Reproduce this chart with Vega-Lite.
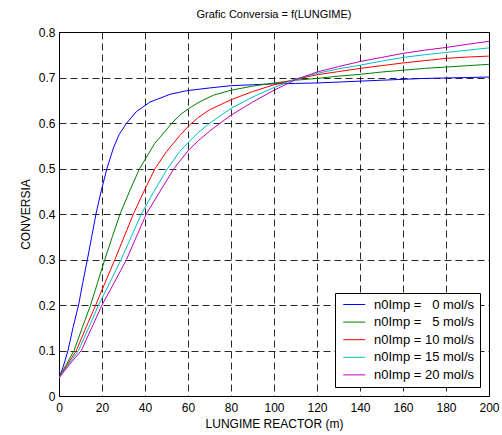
{
  "$schema": "https://vega.github.io/schema/vega-lite/v6.json",
  "width": 430,
  "height": 364,
  "autosize": {"type": "none"},
  "padding": {"left": 59, "top": 32, "right": 13, "bottom": 39},
  "background": "white",
  "title": {"text": "Grafic Conversia = f(LUNGIME)", "fontSize": 11, "fontWeight": "normal", "font": "Liberation Sans", "color": "#000", "offset": 6, "anchor": "middle"},
  "config": {
    "font": "Liberation Sans",
    "view": {"stroke": "#000", "strokeWidth": 1},
    "axis": {
      "domain": false,
      "ticks": false,
      "grid": true,
      "gridColor": "#000",
      "gridOpacity": 0.85,
      "gridDash": [7, 4],
      "gridWidth": 1,
      "labelFont": "Liberation Sans",
      "labelFontSize": 12,
      "labelColor": "#000",
      "titleFont": "Liberation Sans",
      "titleFontSize": 12,
      "titleFontWeight": "normal",
      "titleColor": "#000"
    }
  },
  "data": {
    "values": [
      {"x": 0, "y": 0.04, "s": "n0Imp = \u00a0\u00a00 mol/s"},
      {"x": 2, "y": 0.065, "s": "n0Imp = \u00a0\u00a00 mol/s"},
      {"x": 4.2, "y": 0.10, "s": "n0Imp = \u00a0\u00a00 mol/s"},
      {"x": 6.5, "y": 0.15, "s": "n0Imp = \u00a0\u00a00 mol/s"},
      {"x": 9.1, "y": 0.20, "s": "n0Imp = \u00a0\u00a00 mol/s"},
      {"x": 11.1, "y": 0.25, "s": "n0Imp = \u00a0\u00a00 mol/s"},
      {"x": 13.2, "y": 0.30, "s": "n0Imp = \u00a0\u00a00 mol/s"},
      {"x": 15.2, "y": 0.35, "s": "n0Imp = \u00a0\u00a00 mol/s"},
      {"x": 17.2, "y": 0.40, "s": "n0Imp = \u00a0\u00a00 mol/s"},
      {"x": 19.6, "y": 0.45, "s": "n0Imp = \u00a0\u00a00 mol/s"},
      {"x": 22.3, "y": 0.50, "s": "n0Imp = \u00a0\u00a00 mol/s"},
      {"x": 25.3, "y": 0.545, "s": "n0Imp = \u00a0\u00a00 mol/s"},
      {"x": 28, "y": 0.575, "s": "n0Imp = \u00a0\u00a00 mol/s"},
      {"x": 31.5, "y": 0.60, "s": "n0Imp = \u00a0\u00a00 mol/s"},
      {"x": 36, "y": 0.625, "s": "n0Imp = \u00a0\u00a00 mol/s"},
      {"x": 42.3, "y": 0.646, "s": "n0Imp = \u00a0\u00a00 mol/s"},
      {"x": 51.6, "y": 0.663, "s": "n0Imp = \u00a0\u00a00 mol/s"},
      {"x": 59.4, "y": 0.671, "s": "n0Imp = \u00a0\u00a00 mol/s"},
      {"x": 70, "y": 0.677, "s": "n0Imp = \u00a0\u00a00 mol/s"},
      {"x": 80, "y": 0.682, "s": "n0Imp = \u00a0\u00a00 mol/s"},
      {"x": 90, "y": 0.684, "s": "n0Imp = \u00a0\u00a00 mol/s"},
      {"x": 100, "y": 0.686, "s": "n0Imp = \u00a0\u00a00 mol/s"},
      {"x": 110, "y": 0.687, "s": "n0Imp = \u00a0\u00a00 mol/s"},
      {"x": 120, "y": 0.688, "s": "n0Imp = \u00a0\u00a00 mol/s"},
      {"x": 130, "y": 0.690, "s": "n0Imp = \u00a0\u00a00 mol/s"},
      {"x": 140, "y": 0.692, "s": "n0Imp = \u00a0\u00a00 mol/s"},
      {"x": 150, "y": 0.694, "s": "n0Imp = \u00a0\u00a00 mol/s"},
      {"x": 160, "y": 0.696, "s": "n0Imp = \u00a0\u00a00 mol/s"},
      {"x": 170, "y": 0.698, "s": "n0Imp = \u00a0\u00a00 mol/s"},
      {"x": 180, "y": 0.699, "s": "n0Imp = \u00a0\u00a00 mol/s"},
      {"x": 190, "y": 0.700, "s": "n0Imp = \u00a0\u00a00 mol/s"},
      {"x": 200, "y": 0.701, "s": "n0Imp = \u00a0\u00a00 mol/s"},

      {"x": 0, "y": 0.04, "s": "n0Imp = \u00a0\u00a05 mol/s"},
      {"x": 3.5, "y": 0.07, "s": "n0Imp = \u00a0\u00a05 mol/s"},
      {"x": 7.0, "y": 0.10, "s": "n0Imp = \u00a0\u00a05 mol/s"},
      {"x": 10.8, "y": 0.15, "s": "n0Imp = \u00a0\u00a05 mol/s"},
      {"x": 14.7, "y": 0.20, "s": "n0Imp = \u00a0\u00a05 mol/s"},
      {"x": 18, "y": 0.25, "s": "n0Imp = \u00a0\u00a05 mol/s"},
      {"x": 21.3, "y": 0.30, "s": "n0Imp = \u00a0\u00a05 mol/s"},
      {"x": 24.8, "y": 0.35, "s": "n0Imp = \u00a0\u00a05 mol/s"},
      {"x": 28.4, "y": 0.40, "s": "n0Imp = \u00a0\u00a05 mol/s"},
      {"x": 32.8, "y": 0.45, "s": "n0Imp = \u00a0\u00a05 mol/s"},
      {"x": 37.5, "y": 0.50, "s": "n0Imp = \u00a0\u00a05 mol/s"},
      {"x": 44.5, "y": 0.555, "s": "n0Imp = \u00a0\u00a05 mol/s"},
      {"x": 52.6, "y": 0.60, "s": "n0Imp = \u00a0\u00a05 mol/s"},
      {"x": 56.3, "y": 0.618, "s": "n0Imp = \u00a0\u00a05 mol/s"},
      {"x": 61, "y": 0.634, "s": "n0Imp = \u00a0\u00a05 mol/s"},
      {"x": 66, "y": 0.648, "s": "n0Imp = \u00a0\u00a05 mol/s"},
      {"x": 71.8, "y": 0.661, "s": "n0Imp = \u00a0\u00a05 mol/s"},
      {"x": 80, "y": 0.672, "s": "n0Imp = \u00a0\u00a05 mol/s"},
      {"x": 90, "y": 0.681, "s": "n0Imp = \u00a0\u00a05 mol/s"},
      {"x": 100, "y": 0.688, "s": "n0Imp = \u00a0\u00a05 mol/s"},
      {"x": 110, "y": 0.694, "s": "n0Imp = \u00a0\u00a05 mol/s"},
      {"x": 120, "y": 0.698, "s": "n0Imp = \u00a0\u00a05 mol/s"},
      {"x": 130, "y": 0.703, "s": "n0Imp = \u00a0\u00a05 mol/s"},
      {"x": 140, "y": 0.707, "s": "n0Imp = \u00a0\u00a05 mol/s"},
      {"x": 150, "y": 0.712, "s": "n0Imp = \u00a0\u00a05 mol/s"},
      {"x": 160, "y": 0.716, "s": "n0Imp = \u00a0\u00a05 mol/s"},
      {"x": 170, "y": 0.720, "s": "n0Imp = \u00a0\u00a05 mol/s"},
      {"x": 180, "y": 0.723, "s": "n0Imp = \u00a0\u00a05 mol/s"},
      {"x": 190, "y": 0.726, "s": "n0Imp = \u00a0\u00a05 mol/s"},
      {"x": 200, "y": 0.729, "s": "n0Imp = \u00a0\u00a05 mol/s"},

      {"x": 0, "y": 0.04, "s": "n0Imp = 10 mol/s"},
      {"x": 4, "y": 0.07, "s": "n0Imp = 10 mol/s"},
      {"x": 8.1, "y": 0.10, "s": "n0Imp = 10 mol/s"},
      {"x": 12.5, "y": 0.15, "s": "n0Imp = 10 mol/s"},
      {"x": 17.1, "y": 0.20, "s": "n0Imp = 10 mol/s"},
      {"x": 21.5, "y": 0.25, "s": "n0Imp = 10 mol/s"},
      {"x": 26, "y": 0.30, "s": "n0Imp = 10 mol/s"},
      {"x": 30.3, "y": 0.35, "s": "n0Imp = 10 mol/s"},
      {"x": 34.6, "y": 0.40, "s": "n0Imp = 10 mol/s"},
      {"x": 39.5, "y": 0.45, "s": "n0Imp = 10 mol/s"},
      {"x": 44.7, "y": 0.50, "s": "n0Imp = 10 mol/s"},
      {"x": 50, "y": 0.537, "s": "n0Imp = 10 mol/s"},
      {"x": 56.3, "y": 0.573, "s": "n0Imp = 10 mol/s"},
      {"x": 60.6, "y": 0.595, "s": "n0Imp = 10 mol/s"},
      {"x": 65, "y": 0.613, "s": "n0Imp = 10 mol/s"},
      {"x": 70, "y": 0.629, "s": "n0Imp = 10 mol/s"},
      {"x": 80, "y": 0.651, "s": "n0Imp = 10 mol/s"},
      {"x": 90, "y": 0.669, "s": "n0Imp = 10 mol/s"},
      {"x": 100, "y": 0.684, "s": "n0Imp = 10 mol/s"},
      {"x": 110, "y": 0.696, "s": "n0Imp = 10 mol/s"},
      {"x": 120, "y": 0.706, "s": "n0Imp = 10 mol/s"},
      {"x": 130, "y": 0.713, "s": "n0Imp = 10 mol/s"},
      {"x": 140, "y": 0.720, "s": "n0Imp = 10 mol/s"},
      {"x": 150, "y": 0.726, "s": "n0Imp = 10 mol/s"},
      {"x": 160, "y": 0.732, "s": "n0Imp = 10 mol/s"},
      {"x": 170, "y": 0.737, "s": "n0Imp = 10 mol/s"},
      {"x": 180, "y": 0.742, "s": "n0Imp = 10 mol/s"},
      {"x": 190, "y": 0.745, "s": "n0Imp = 10 mol/s"},
      {"x": 200, "y": 0.747, "s": "n0Imp = 10 mol/s"},

      {"x": 0, "y": 0.04, "s": "n0Imp = 15 mol/s"},
      {"x": 4.5, "y": 0.07, "s": "n0Imp = 15 mol/s"},
      {"x": 9.1, "y": 0.10, "s": "n0Imp = 15 mol/s"},
      {"x": 13.8, "y": 0.15, "s": "n0Imp = 15 mol/s"},
      {"x": 18.4, "y": 0.20, "s": "n0Imp = 15 mol/s"},
      {"x": 23.7, "y": 0.25, "s": "n0Imp = 15 mol/s"},
      {"x": 28.9, "y": 0.30, "s": "n0Imp = 15 mol/s"},
      {"x": 33.6, "y": 0.35, "s": "n0Imp = 15 mol/s"},
      {"x": 38.3, "y": 0.40, "s": "n0Imp = 15 mol/s"},
      {"x": 44.2, "y": 0.45, "s": "n0Imp = 15 mol/s"},
      {"x": 50.5, "y": 0.50, "s": "n0Imp = 15 mol/s"},
      {"x": 56.3, "y": 0.538, "s": "n0Imp = 15 mol/s"},
      {"x": 60, "y": 0.557, "s": "n0Imp = 15 mol/s"},
      {"x": 65, "y": 0.580, "s": "n0Imp = 15 mol/s"},
      {"x": 70.2, "y": 0.600, "s": "n0Imp = 15 mol/s"},
      {"x": 80, "y": 0.632, "s": "n0Imp = 15 mol/s"},
      {"x": 90, "y": 0.657, "s": "n0Imp = 15 mol/s"},
      {"x": 100, "y": 0.678, "s": "n0Imp = 15 mol/s"},
      {"x": 110, "y": 0.697, "s": "n0Imp = 15 mol/s"},
      {"x": 120, "y": 0.709, "s": "n0Imp = 15 mol/s"},
      {"x": 130, "y": 0.719, "s": "n0Imp = 15 mol/s"},
      {"x": 140, "y": 0.727, "s": "n0Imp = 15 mol/s"},
      {"x": 150, "y": 0.736, "s": "n0Imp = 15 mol/s"},
      {"x": 160, "y": 0.744, "s": "n0Imp = 15 mol/s"},
      {"x": 170, "y": 0.750, "s": "n0Imp = 15 mol/s"},
      {"x": 180, "y": 0.755, "s": "n0Imp = 15 mol/s"},
      {"x": 190, "y": 0.760, "s": "n0Imp = 15 mol/s"},
      {"x": 200, "y": 0.765, "s": "n0Imp = 15 mol/s"},

      {"x": 0, "y": 0.04, "s": "n0Imp = 20 mol/s"},
      {"x": 5, "y": 0.07, "s": "n0Imp = 20 mol/s"},
      {"x": 10.4, "y": 0.10, "s": "n0Imp = 20 mol/s"},
      {"x": 15.2, "y": 0.15, "s": "n0Imp = 20 mol/s"},
      {"x": 20, "y": 0.20, "s": "n0Imp = 20 mol/s"},
      {"x": 25.8, "y": 0.25, "s": "n0Imp = 20 mol/s"},
      {"x": 31.4, "y": 0.30, "s": "n0Imp = 20 mol/s"},
      {"x": 36, "y": 0.35, "s": "n0Imp = 20 mol/s"},
      {"x": 40.6, "y": 0.40, "s": "n0Imp = 20 mol/s"},
      {"x": 47, "y": 0.45, "s": "n0Imp = 20 mol/s"},
      {"x": 53.5, "y": 0.50, "s": "n0Imp = 20 mol/s"},
      {"x": 60.2, "y": 0.540, "s": "n0Imp = 20 mol/s"},
      {"x": 65, "y": 0.562, "s": "n0Imp = 20 mol/s"},
      {"x": 70, "y": 0.582, "s": "n0Imp = 20 mol/s"},
      {"x": 75, "y": 0.600, "s": "n0Imp = 20 mol/s"},
      {"x": 80, "y": 0.617, "s": "n0Imp = 20 mol/s"},
      {"x": 90, "y": 0.646, "s": "n0Imp = 20 mol/s"},
      {"x": 100, "y": 0.672, "s": "n0Imp = 20 mol/s"},
      {"x": 110, "y": 0.695, "s": "n0Imp = 20 mol/s"},
      {"x": 120, "y": 0.712, "s": "n0Imp = 20 mol/s"},
      {"x": 130, "y": 0.724, "s": "n0Imp = 20 mol/s"},
      {"x": 140, "y": 0.735, "s": "n0Imp = 20 mol/s"},
      {"x": 150, "y": 0.744, "s": "n0Imp = 20 mol/s"},
      {"x": 160, "y": 0.753, "s": "n0Imp = 20 mol/s"},
      {"x": 170, "y": 0.760, "s": "n0Imp = 20 mol/s"},
      {"x": 180, "y": 0.766, "s": "n0Imp = 20 mol/s"},
      {"x": 190, "y": 0.773, "s": "n0Imp = 20 mol/s"},
      {"x": 200, "y": 0.7795, "s": "n0Imp = 20 mol/s"}
    ]
  },
  "mark": {"type": "line", "strokeWidth": 1, "clip": true},
  "encoding": {
    "x": {
      "field": "x",
      "type": "quantitative",
      "scale": {"domain": [0, 200], "nice": false, "zero": false},
      "axis": {"title": "LUNGIME REACTOR (m)", "values": [0, 20, 40, 60, 80, 100, 120, 140, 160, 180, 200], "labelPadding": 6, "titlePadding": 5, "labelFlush": false}
    },
    "y": {
      "field": "y",
      "type": "quantitative",
      "scale": {"domain": [0, 0.8], "nice": false},
      "axis": {"title": "CONVERSIA", "values": [0, 0.1, 0.2, 0.3, 0.4, 0.5, 0.6, 0.7, 0.8], "labelExpr": "datum.value == 0 ? '0' : format(datum.value, '.1f')", "labelPadding": 4, "titlePadding": 6, "labelFlush": false}
    },
    "color": {
      "field": "s",
      "type": "nominal",
      "scale": {
        "domain": ["n0Imp = \u00a0\u00a00 mol/s", "n0Imp = \u00a0\u00a05 mol/s", "n0Imp = 10 mol/s", "n0Imp = 15 mol/s", "n0Imp = 20 mol/s"],
        "range": ["#0000FF", "#008000", "#FF0000", "#00BFBF", "#BF00BF"]
      },
      "legend": {
        "title": null,
        "orient": "none",
        "legendX": 276,
        "legendY": 261,
        "fillColor": "white",
        "strokeColor": "#000",
        "padding": 5,
        "symbolOffset": 7.7,
        "symbolType": "M-1.83,0H1.83",
        "symbolSize": 144,
        "symbolStrokeWidth": 1,
        "labelFontSize": 13,
        "labelFont": "Liberation Sans",
        "labelColor": "#000",
        "labelOffset": 13.3,
        "rowPadding": 3.6
      }
    }
  }
}
